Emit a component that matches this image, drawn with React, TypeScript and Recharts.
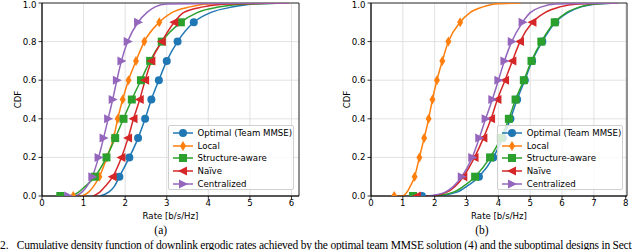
import React from 'react';
import { LineChart, Line, XAxis, YAxis, CartesianGrid, ReferenceArea } from 'recharts';

// CDF levels shared by every curve (markers sit on 0.1 ... 0.9)
const levels = [0, 0.02, 0.05, 0.1, 0.2, 0.3, 0.4, 0.5, 0.6, 0.7, 0.8, 0.9, 0.95, 0.98, 0.995, 1.0];

const seriesNames = ['Optimal (Team MMSE)', 'Local', 'Structure-aware', 'Naïve', 'Centralized'];
const seriesColors = ['#1f77b4', '#ff7f0e', '#2ca02c', '#d62728', '#9467bd'];
const seriesShapes = ['circle', 'diamond', 'square', 'left', 'right'];

// (a) rate [b/s/Hz] at each CDF level
const ratesA = [
  [1.40, 1.60, 1.74, 1.86, 2.10, 2.31, 2.48, 2.63, 2.81, 3.00, 3.26, 3.65, 4.05, 4.60, 5.10, 5.93],
  [0.92, 1.12, 1.24, 1.38, 1.56, 1.72, 1.82, 1.94, 2.08, 2.26, 2.46, 2.82, 3.12, 3.56, 4.00, 5.93],
  [0.64, 0.88, 1.04, 1.27, 1.55, 1.76, 1.96, 2.16, 2.38, 2.60, 2.88, 3.34, 3.73, 4.28, 4.90, 5.93],
  [1.24, 1.39, 1.52, 1.70, 1.91, 2.07, 2.20, 2.35, 2.48, 2.63, 2.88, 3.18, 3.40, 3.88, 4.50, 5.93],
  [0.76, 0.96, 1.08, 1.21, 1.36, 1.48, 1.59, 1.70, 1.80, 1.91, 2.06, 2.31, 2.52, 2.72, 3.00, 5.93],
];
// first sample (marker at CDF 0), null = not visible
const minA = [null, 0.75, 0.44, null, 0.63];

// (b)
const ratesB = [
  [1.90, 2.70, 3.01, 3.39, 3.84, 4.14, 4.38, 4.59, 4.83, 5.06, 5.38, 5.79, 6.18, 6.60, 7.10, 7.76],
  [0.97, 1.13, 1.23, 1.37, 1.52, 1.67, 1.81, 1.93, 2.07, 2.24, 2.43, 2.80, 3.11, 3.52, 3.90, 4.70],
  [1.85, 2.59, 2.90, 3.27, 3.74, 4.08, 4.33, 4.54, 4.80, 5.04, 5.35, 5.77, 6.14, 6.56, 7.00, 7.76],
  [1.80, 2.38, 2.64, 2.90, 3.25, 3.53, 3.77, 3.97, 4.21, 4.44, 4.68, 5.07, 5.46, 5.93, 6.50, 7.76],
  [1.80, 2.33, 2.59, 2.85, 3.18, 3.40, 3.60, 3.81, 4.00, 4.19, 4.42, 4.76, 5.00, 5.36, 5.80, 7.76],
];
const minB = [1.60, 0.73, 1.32, 1.44, null];

const xTicksA = [0, 1, 2, 3, 4, 5, 6];
const xTicksB = [0, 1, 2, 3, 4, 5, 6, 7, 8];
const yTicks = [0, 0.2, 0.4, 0.6, 0.8, 1.0];

const FONT = 'DejaVu Sans, sans-serif';
const FS = 8.6;

const buildSeries = (rates: number[], first: number | null) => {
  const pts: { x: number; y: number; m: boolean }[] = [];
  if (first !== null) pts.push({ x: first, y: 0, m: true });
  rates.forEach((r, i) => pts.push({ x: r, y: levels[i], m: i >= 3 && i <= 11 }));
  return pts;
};

const Marker = ({ shape, cx, cy, color }: any) => {
  switch (shape) {
    case 'circle':
      return <circle cx={cx} cy={cy} r={4} fill={color} />;
    case 'square':
      return <rect x={cx - 4} y={cy - 4} width={8} height={8} fill={color} />;
    case 'diamond':
      return <polygon points={`${cx},${cy - 5} ${cx + 3},${cy} ${cx},${cy + 5} ${cx - 3},${cy}`} fill={color} />;
    case 'left':
      return <polygon points={`${cx - 5},${cy} ${cx + 4},${cy - 4.5} ${cx + 4},${cy + 4.5}`} fill={color} />;
    default:
      return <polygon points={`${cx + 5},${cy} ${cx - 4},${cy - 4.5} ${cx - 4},${cy + 4.5}`} fill={color} />;
  }
};

const Legend = ({ left }: { left: number }) => (
  <div
    style={{
      position: 'absolute', left, top: 124.7, width: 126.5, height: 65, boxSizing: 'border-box',
      background: 'rgba(255,255,255,0.8)', border: '1px solid #d0d0d0', borderRadius: 2,
      fontFamily: FONT, fontSize: FS, color: '#000',
    }}
  >
    {seriesNames.map((name, i) => (
      <div key={name} style={{ position: 'absolute', left: 3.5, top: 1 + i * 12.67, height: 12.67, display: 'flex', alignItems: 'center', whiteSpace: 'nowrap' }}>
        <svg width={22} height={12} style={{ marginRight: 3.5 }}>
          <line x1={1} y1={6} x2={21} y2={6} stroke={seriesColors[i]} strokeWidth={1.5} />
          <Marker shape={seriesShapes[i]} cx={11} cy={6} color={seriesColors[i]} />
        </svg>
        <span>{name}</span>
      </div>
    ))}
  </div>
);

const Panel = ({ rates, mins, xMax, xTicks, yWidth, right, cdfX }: any) => (
  <LineChart width={320} height={222} margin={{ top: 3, right, bottom: 0, left: 0 }}>
    <CartesianGrid stroke="#dadada" strokeWidth={0.8} />
    <XAxis
      type="number" dataKey="x" domain={[0, xMax]} ticks={xTicks} allowDataOverflow
      height={26} tickSize={3.5} tickMargin={0} stroke="#000" strokeWidth={0.8}
      tick={{ fontSize: FS, fill: '#000', fontFamily: FONT }}
      label={{ value: 'Rate [b/s/Hz]', position: 'insideBottom', offset: 3, fontSize: FS, fill: '#000', fontFamily: FONT }}
    />
    <YAxis
      type="number" domain={[0, 1]} ticks={yTicks} width={yWidth} allowDataOverflow
      tickSize={3.5} tickMargin={2} stroke="#000" strokeWidth={0.8}
      tickFormatter={(v: number) => v.toFixed(1)}
      tick={{ fontSize: FS, fill: '#000', fontFamily: FONT }}
      label={{ value: 'CDF', angle: -90, position: 'insideLeft', offset: cdfX, fontSize: FS, fill: '#000', fontFamily: FONT, style: { textAnchor: 'middle' } }}
    />
    {rates.map((r: number[], i: number) => (
      <Line
        key={seriesNames[i]}
        data={buildSeries(r, mins[i])}
        dataKey="y"
        type="monotone"
        stroke={seriesColors[i]}
        strokeWidth={1.5}
        isAnimationActive={false}
        activeDot={false}
        dot={(p: any) =>
          p.payload.m ? (
            <Marker key={`m-${i}-${p.index}`} shape={seriesShapes[i]} cx={p.cx} cy={p.cy} color={seriesColors[i]} />
          ) : (
            <g key={`m-${i}-${p.index}`} />
          )
        }
      />
    ))}
    <ReferenceArea x1={0} x2={xMax} y1={0} y2={1} fill="none" stroke="#000" strokeWidth={0.8} ifOverflow="visible" />
  </LineChart>
);

export default function App() {
  return (
    <div style={{ position: 'absolute', left: 0, top: 0, width: 640, height: 250, overflow: 'hidden', background: '#fff' }}>
      <div style={{ position: 'absolute', left: 0, top: 0 }}>
        <Panel rates={ratesA} mins={minA} xMax={6.18} xTicks={xTicksA} yWidth={42} right={21} cdfX={18} />
      </div>
      <div style={{ position: 'absolute', left: 320, top: 0 }}>
        <Panel rates={ratesB} mins={minB} xMax={8.04} xTicks={xTicksB} yWidth={51} right={13} cdfX={27} />
      </div>
      <Legend left={167.5} />
      <Legend left={496.7} />
      <svg width={640} height={250} style={{ position: 'absolute', left: 0, top: 0, pointerEvents: 'none' }}>
        <g fontFamily="Liberation Serif, serif" fontSize={11.5} fill="#000">
          <text x={160.7} y={233.5} textAnchor="middle">(a)</text>
          <text x={482} y={233.5} textAnchor="middle">(b)</text>
          <text x={0} y={248.5}>2.</text>
          <text x={16.7} y={248.5} textLength={615} lengthAdjust="spacing">
            Cumulative density function of downlink ergodic rates achieved by the optimal team MMSE solution (4) and the suboptimal designs in Sect
          </text>
        </g>
      </svg>
    </div>
  );
}
